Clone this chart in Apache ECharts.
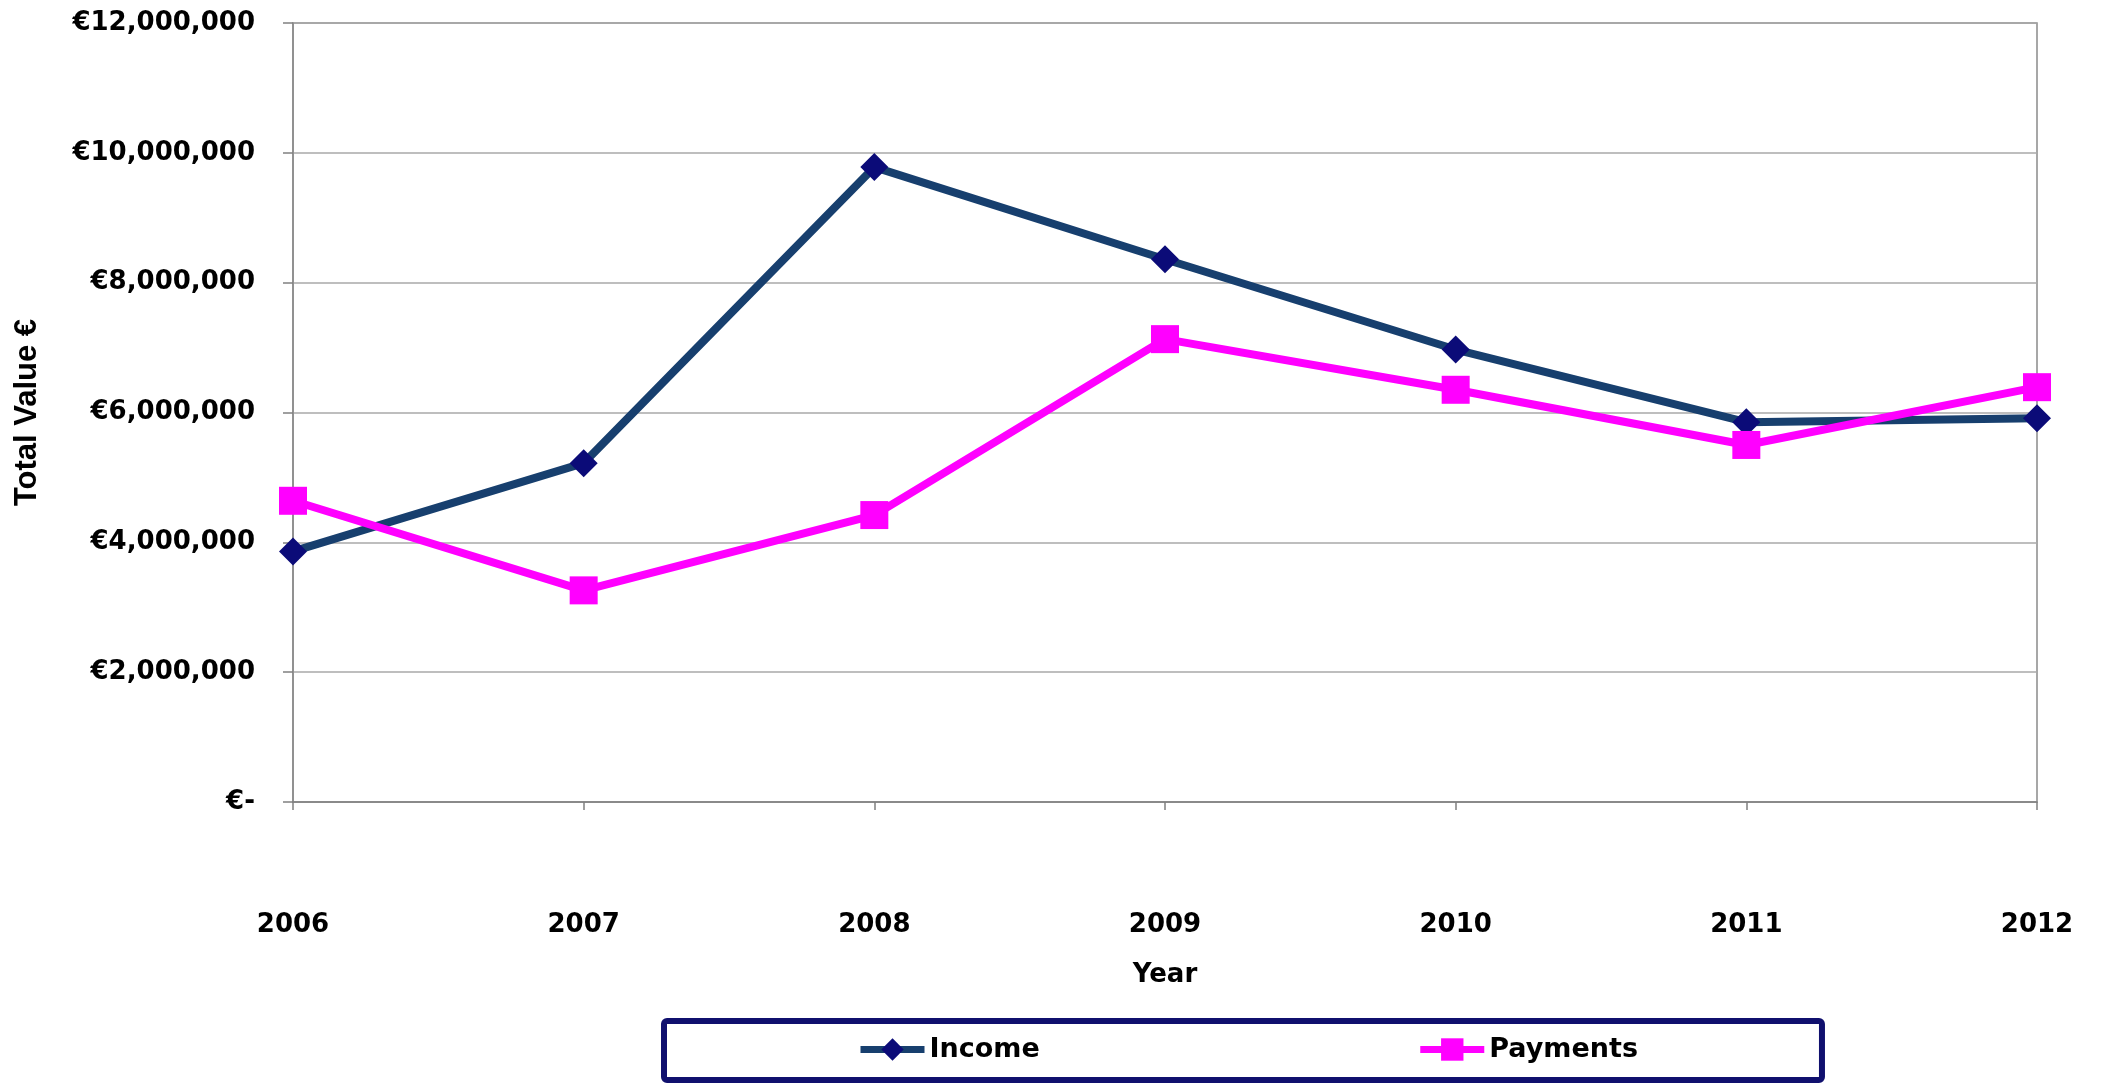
<!DOCTYPE html>
<html>
<head>
<meta charset="utf-8">
<title>Income and Payments</title>
<script src="https://cdn.jsdelivr.net/npm/echarts@6/dist/echarts.min.js"></script>
<style>
  html, body { margin: 0; padding: 0; background: #ffffff; }
  #chart { width: 2102px; height: 1086px; }
</style>
</head>
<body>
<div id="chart"></div>
<script>
// Annual totals (euro)
const years = ['2006', '2007', '2008', '2009', '2010', '2011', '2012'];
const income = [3860000, 5220000, 9780000, 8360000, 6970000, 5850000, 5910000];
const payments = [4640000, 3260000, 4420000, 7130000, 6350000, 5500000, 6390000];

// Value axis ticks
const yMin = 0;
const yMax = 12000000;
const yStep = 2000000;
const yTickLabels = ['€-', '€2,000,000', '€4,000,000', '€6,000,000', '€8,000,000', '€10,000,000', '€12,000,000'];

const labelFont = 'DejaVu Sans, Verdana, sans-serif';
const incomeLine = '#173f6e';
const incomeMark = '#0b0b78';
const paymentsColor = '#ff00ff';

const chart = echarts.init(document.getElementById('chart'), null, { renderer: 'canvas' });

chart.setOption({
  backgroundColor: '#ffffff',
  animation: false,
  grid: {
    left: 293, right: 65, top: 23, bottom: 284,
    show: true, borderColor: '#8a8a8a', borderWidth: 1.5, backgroundColor: 'transparent'
  },
  legend: {
    left: 664, top: 1021,
    padding: [15, 184, 17, 193],
    itemGap: 377,
    itemWidth: 64, itemHeight: 28,
    borderColor: '#10106e', borderWidth: 6, borderRadius: 3,
    textStyle: { fontFamily: labelFont, fontWeight: 'bold', fontSize: 27, color: '#000000' },
    data: [
      { name: 'Income', itemStyle: { color: incomeMark }, lineStyle: { color: incomeLine, width: 7 } },
      { name: 'Payments', itemStyle: { color: paymentsColor }, lineStyle: { color: paymentsColor, width: 7 } }
    ]
  },
  xAxis: {
    type: 'category',
    data: years,
    boundaryGap: false,
    name: 'Year',
    nameLocation: 'middle',
    nameGap: 160,
    nameTextStyle: { fontFamily: labelFont, fontWeight: 'bold', fontSize: 26, color: '#000000' },
    axisLine: { lineStyle: { color: '#808080', width: 1.5 } },
    axisTick: { show: true, length: 8, lineStyle: { color: '#808080', width: 1.5 } },
    axisLabel: { margin: 110, fontFamily: labelFont, fontWeight: 'bold', fontSize: 26, color: '#000000' },
    splitLine: { show: false }
  },
  yAxis: {
    type: 'value',
    min: yMin, max: yMax, interval: yStep,
    name: 'Total Value €',
    nameLocation: 'middle',
    nameGap: 250,
    nameRotate: 90,
    nameTextStyle: { fontFamily: 'Liberation Sans, Arial, sans-serif', fontWeight: 'bold', fontSize: 31, color: '#000000' },
    axisLine: { show: true, lineStyle: { color: '#8a8a8a', width: 1.5 } },
    axisTick: { show: true, length: 10, lineStyle: { color: '#808080', width: 1.5 } },
    axisLabel: {
      margin: 38,
      fontFamily: labelFont, fontWeight: 'bold', fontSize: 26, color: '#000000',
      formatter: function (v) { return yTickLabels[Math.round((v - yMin) / yStep)]; }
    },
    splitLine: { show: true, lineStyle: { color: '#a8a8a8', width: 1.5 } }
  },
  series: [
    {
      name: 'Income',
      type: 'line',
      data: income,
      symbol: 'diamond',
      symbolSize: 28,
      lineStyle: { color: incomeLine, width: 8 },
      itemStyle: { color: incomeMark },
      z: 2
    },
    {
      name: 'Payments',
      type: 'line',
      data: payments,
      symbol: 'rect',
      symbolSize: 28,
      lineStyle: { color: paymentsColor, width: 8 },
      itemStyle: { color: paymentsColor },
      z: 3
    }
  ]
});
</script>
</body>
</html>
